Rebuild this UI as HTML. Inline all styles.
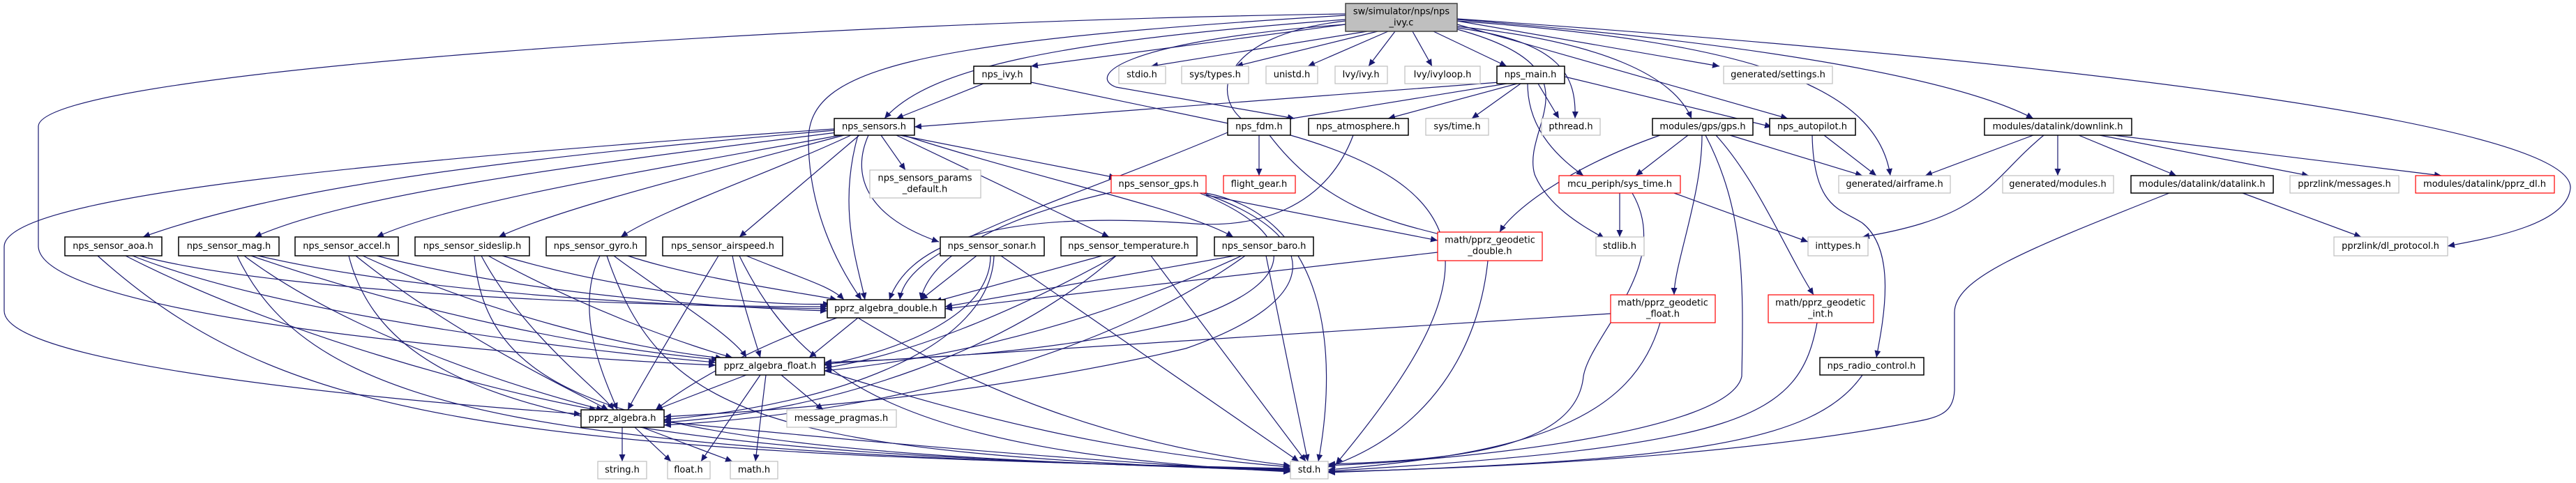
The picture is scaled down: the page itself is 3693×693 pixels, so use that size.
<!DOCTYPE html>
<html><head><meta charset="utf-8"><style>
html,body{margin:0;padding:0;background:#fff;}
svg{display:block;}
text{font-family:"DejaVu Sans","Liberation Sans",sans-serif;font-size:13px;fill:#000;text-anchor:middle;dominant-baseline:central;}
.e{fill:none;stroke:#191970;stroke-width:1.2;marker-end:url(#a);}
.b{fill:#fff;stroke:#000;stroke-width:1.5;}
.g{fill:#fff;stroke:#bfbfbf;stroke-width:1.2;}
.r{fill:#fff;stroke:#ff0000;stroke-width:1.2;}
</style></head><body>
<svg width="3693" height="693" viewBox="0 0 3693 693" xmlns="http://www.w3.org/2000/svg">
<defs><marker id="a" markerWidth="11" markerHeight="9" refX="10" refY="4.5" orient="auto" markerUnits="userSpaceOnUse"><path d="M0,0L10,4.5L0,9z" fill="#191970"/></marker></defs>
<g>
<!-- sw edges -->
<path class="e" d="M1929,35 L1478,95"/>
<path class="e" d="M1960,45 L1650,95"/>
<path class="e" d="M1975,45 L1772,95"/>
<path class="e" d="M1990,45 L1875,95"/>
<path class="e" d="M2000,45 L1962,95"/>
<path class="e" d="M2025,45 L2053,95"/>
<path class="e" d="M2055,45 L2160,95"/>
<path class="e" d="M2089,30 L2465,95"/>
<path class="e" d="M2089,35 L2563,170"/>
<path class="e" d="M2089,30 C2500,60 2690,120 2710,252"/>
<path class="e" d="M2089,28 C2500,60 2800,110 2915,170"/>
<path class="e" d="M2089,27 C3000,90 3690,180 3685,270 C3680,320 3580,340 3509,353"/>
<path class="e" d="M2089,38 C2300,60 2400,110 2425,170"/>
<path class="e" d="M2089,40 C2240,60 2260,110 2258,170"/>
<path class="e" d="M2089,42 C2300,100 2180,180 2200,250 C2220,300 2280,330 2300,342"/>
<path class="e" d="M1929,30 C1750,50 1730,140 1790,178"/>
<path class="e" d="M1929,35 C1600,60 1560,110 1600,125 L1856,170"/>
<path class="e" d="M1929,28 C1500,60 1330,100 1268,170"/>
<path class="e" d="M1929,22 C1300,60 1160,100 1159,200 C1159,300 1200,380 1235,430"/>
<path class="e" d="M1929,20 C1200,30 60,100 55,181 L55,354 C60,450 700,510 1026,524"/>
<!-- nps_ivy -->
<path class="e" d="M1410,120 L1285,170"/>
<path class="e" d="M1478,118 L1775,180"/>
<!-- nps_main -->
<path class="e" d="M2150,118 L1311,182"/>
<path class="e" d="M2160,120 L1840,172"/>
<path class="e" d="M2175,120 L1990,170"/>
<path class="e" d="M2180,120 L2110,170"/>
<path class="e" d="M2205,120 L2235,170"/>
<path class="e" d="M2190,120 C2190,190 2240,230 2270,252"/>
<path class="e" d="M2243,110 L2540,182"/>
<!-- nps_sensors -->
<path class="e" d="M1196,187 C700,230 400,270 205,340"/>
<path class="e" d="M1200,190 C800,240 500,280 365,340"/>
<path class="e" d="M1205,194 C900,250 650,290 540,340"/>
<path class="e" d="M1210,194 C1000,250 800,300 715,340"/>
<path class="e" d="M1220,194 C1100,250 950,300 890,340"/>
<path class="e" d="M1232,194 L1060,340"/>
<path class="e" d="M1263,194 L1298,244"/>
<path class="e" d="M1290,194 L1600,255"/>
<path class="e" d="M1245,194 C1220,250 1240,310 1346,347"/>
<path class="e" d="M1285,194 L1590,340"/>
<path class="e" d="M1295,194 C1500,260 1700,300 1768,340"/>
<path class="e" d="M1230,194 C1200,300 1230,380 1240,430"/>
<path class="e" d="M1196,185 C400,240 6,290 6,354 L6,446 C6,520 500,570 833,594"/>
<!-- nps_fdm -->
<path class="e" d="M1805,194 L1805,252"/>
<path class="e" d="M1760,190 C1500,300 1300,350 1290,430"/>
<path class="e" d="M1820,194 C1900,300 2000,320 2080,340"/>
<path class="e" d="M1850,194 C2150,280 2120,420 1915,666"/>
<!-- atmosphere -->
<path class="e" d="M1940,194 C1900,300 1800,330 1700,320 C1400,300 1300,360 1275,430"/>
<!-- sensor_gps -->
<path class="e" d="M1593,276 C1400,320 1330,380 1320,430"/>
<path class="e" d="M1720,277 C1850,330 1880,400 1700,460 C1500,510 1300,515 1182,520"/>
<path class="e" d="M1725,277 C1900,340 1900,430 1700,500 C1400,570 1100,590 952,598"/>
<path class="e" d="M1729,277 C1900,310 1920,500 1890,662"/>
<path class="e" d="M1729,280 L2061,345"/>
<!-- left sensors -->
<path class="e" d="M200,367 C400,420 900,440 1186,440"/>
<path class="e" d="M190,367 C400,450 800,500 1026,520"/>
<path class="e" d="M180,367 C400,480 700,560 855,588"/>
<path class="e" d="M140,367 C400,600 700,650 1850,672"/>
<path class="e" d="M370,367 C600,420 950,440 1186,443"/>
<path class="e" d="M360,367 C600,450 850,500 1030,516"/>
<path class="e" d="M350,367 C500,480 750,560 865,588"/>
<path class="e" d="M340,367 C450,600 800,650 1850,673"/>
<path class="e" d="M540,367 C750,420 1000,440 1186,446"/>
<path class="e" d="M520,367 C700,450 900,500 1036,514"/>
<path class="e" d="M510,367 C650,480 820,560 872,588"/>
<path class="e" d="M500,367 C560,600 900,650 1850,674"/>
<path class="e" d="M720,367 C900,420 1100,440 1190,436"/>
<path class="e" d="M700,367 C850,450 1000,500 1050,513"/>
<path class="e" d="M690,367 C750,480 860,560 880,588"/>
<path class="e" d="M680,367 C700,600 950,650 1850,675"/>
<path class="e" d="M900,367 C1000,400 1150,420 1200,430"/>
<path class="e" d="M880,367 C950,420 1050,480 1070,513"/>
<path class="e" d="M860,367 C820,450 870,550 885,588"/>
<path class="e" d="M870,367 C950,600 1100,650 1850,676"/>
<path class="e" d="M1070,367 C1150,400 1190,410 1210,430"/>
<path class="e" d="M1050,367 C1060,420 1080,480 1090,513"/>
<path class="e" d="M1030,367 C980,450 920,550 900,588"/>
<path class="e" d="M1060,367 C1150,550 1300,650 1850,677"/>
<!-- right sensors -->
<path class="e" d="M1400,367 L1320,430"/>
<path class="e" d="M1420,367 C1420,450 1300,500 1182,524"/>
<path class="e" d="M1425,367 C1420,500 1200,580 952,602"/>
<path class="e" d="M1435,367 L1862,662"/>
<path class="e" d="M1580,367 L1340,433"/>
<path class="e" d="M1600,367 C1450,450 1300,510 1182,528"/>
<path class="e" d="M1600,367 C1450,500 1200,590 952,606"/>
<path class="e" d="M1650,367 L1872,662"/>
<path class="e" d="M1770,367 L1355,440"/>
<path class="e" d="M1780,367 C1600,450 1400,510 1182,532"/>
<path class="e" d="M1785,367 C1600,500 1300,590 952,610"/>
<path class="e" d="M1815,367 L1875,662"/>
<!-- algebra -->
<path class="e" d="M1230,456 L1160,513"/>
<path class="e" d="M1200,456 C1100,490 1000,540 940,588"/>
<path class="e" d="M1230,456 C1400,560 1600,640 1850,668"/>
<path class="e" d="M1070,538 L940,588"/>
<path class="e" d="M1120,538 L1180,588"/>
<path class="e" d="M1090,538 L1005,662"/>
<path class="e" d="M1098,538 L1083,662"/>
<path class="e" d="M1182,532 C1400,600 1600,650 1850,670"/>
<path class="e" d="M892,613 L892,662"/>
<path class="e" d="M910,613 L962,662"/>
<path class="e" d="M920,613 L1050,662"/>
<path class="e" d="M952,605 C1300,640 1600,665 1850,676"/>
<!-- geodetic -->
<path class="e" d="M2061,362 L1355,443"/>
<path class="e" d="M2133,374 C2120,500 2050,620 1904,670"/>
<path class="e" d="M2309,450 L1182,522"/>
<path class="e" d="M2380,463 C2340,600 2200,650 1904,674"/>
<path class="e" d="M2605,463 C2580,600 2500,640 1904,676"/>
<!-- gps -->
<path class="e" d="M2380,194 C2250,240 2170,300 2150,333"/>
<path class="e" d="M2440,194 C2440,280 2400,380 2400,423"/>
<path class="e" d="M2460,194 C2520,260 2560,360 2600,423"/>
<path class="e" d="M2420,194 L2345,252"/>
<path class="e" d="M2480,194 L2670,252"/>
<path class="e" d="M2445,194 C2500,300 2500,400 2497,540 C2480,620 2100,660 1904,668"/>
<!-- sys_time -->
<path class="e" d="M2322,277 L2322,340"/>
<path class="e" d="M2400,277 L2592,347"/>
<path class="e" d="M2340,277 C2400,380 2280,480 2270,540 C2260,640 2100,660 1904,666"/>
<!-- autopilot -->
<path class="e" d="M2615,194 L2690,252"/>
<path class="e" d="M2598,194 C2600,300 2640,300 2670,320 C2720,360 2700,460 2690,513"/>
<path class="e" d="M2670,538 C2600,640 2400,660 1904,678"/>
<!-- downlink -->
<path class="e" d="M2915,194 L2760,252"/>
<path class="e" d="M2930,194 C2850,260 2850,310 2670,340"/>
<path class="e" d="M2950,194 L2950,252"/>
<path class="e" d="M2980,194 L3120,252"/>
<path class="e" d="M3010,194 L3310,252"/>
<path class="e" d="M3030,194 L3500,252"/>
<!-- datalink -->
<path class="e" d="M3215,277 L3385,340"/>
<path class="e" d="M3110,277 C2900,360 2800,400 2802,450 L2802,560 C2800,600 2770,600 2720,610 C2500,650 2200,670 1904,677"/>
</g>
<g>
<rect x="1929" y="5" width="160" height="40" fill="#bfbfbf" stroke="#404040" stroke-width="1.5"/>
<text x="2009" y="17">sw/simulator/nps/nps</text><text x="2009" y="33">_ivy.c</text>

<rect class="b" x="1396" y="95" width="82" height="25"/><text x="1437" y="107.5">nps_ivy.h</text>
<rect class="g" x="1604" y="95" width="67" height="25"/><text x="1637" y="107.5">stdio.h</text>
<rect class="g" x="1694" y="95" width="96" height="25"/><text x="1742" y="107.5">sys/types.h</text>
<rect class="g" x="1815" y="95" width="74" height="25"/><text x="1852" y="107.5">unistd.h</text>
<rect class="g" x="1914" y="95" width="75" height="25"/><text x="1951" y="107.5">Ivy/ivy.h</text>
<rect class="g" x="2014" y="95" width="108" height="25"/><text x="2068" y="107.5">Ivy/ivyloop.h</text>
<rect class="b" x="2146" y="95" width="97" height="25"/><text x="2194" y="107.5">nps_main.h</text>
<rect class="g" x="2471" y="95" width="156" height="25"/><text x="2549" y="107.5">generated/settings.h</text>

<rect class="b" x="1196" y="170" width="115" height="24"/><text x="1253" y="182">nps_sensors.h</text>
<rect class="b" x="1760" y="170" width="90" height="24"/><text x="1805" y="182">nps_fdm.h</text>
<rect class="b" x="1876" y="170" width="143" height="24"/><text x="1947" y="182">nps_atmosphere.h</text>
<rect class="g" x="2044" y="170" width="90" height="24"/><text x="2089" y="182">sys/time.h</text>
<rect class="g" x="2210" y="170" width="84" height="24"/><text x="2252" y="182">pthread.h</text>
<rect class="b" x="2369" y="170" width="144" height="24"/><text x="2441" y="182">modules/gps/gps.h</text>
<rect class="b" x="2537" y="170" width="123" height="24"/><text x="2598" y="182">nps_autopilot.h</text>
<rect class="b" x="2845" y="170" width="211" height="24"/><text x="2950" y="182">modules/datalink/downlink.h</text>

<rect class="g" x="1247" y="244" width="159" height="40"/><text x="1326" y="256">nps_sensors_params</text><text x="1326" y="272">_default.h</text>
<rect class="r" x="1593" y="252" width="136" height="25"/><text x="1661" y="264.5">nps_sensor_gps.h</text>
<rect class="r" x="1754" y="252" width="103" height="25"/><text x="1805" y="264.5">flight_gear.h</text>
<rect class="r" x="2235" y="252" width="174" height="25"/><text x="2322" y="264.5">mcu_periph/sys_time.h</text>
<rect class="g" x="2636" y="252" width="160" height="25"/><text x="2716" y="264.5">generated/airframe.h</text>
<rect class="g" x="2871" y="252" width="159" height="25"/><text x="2950" y="264.5">generated/modules.h</text>
<rect class="b" x="3055" y="252" width="204" height="25"/><text x="3157" y="264.5">modules/datalink/datalink.h</text>
<rect class="g" x="3283" y="252" width="156" height="25"/><text x="3361" y="264.5">pprzlink/messages.h</text>
<rect class="r" x="3463" y="252" width="199" height="25"/><text x="3562" y="264.5">modules/datalink/pprz_dl.h</text>

<rect class="b" x="93" y="340" width="139" height="27"/><text x="162" y="353.5">nps_sensor_aoa.h</text>
<rect class="b" x="256" y="340" width="144" height="27"/><text x="328" y="353.5">nps_sensor_mag.h</text>
<rect class="b" x="423" y="340" width="148" height="27"/><text x="497" y="353.5">nps_sensor_accel.h</text>
<rect class="b" x="595" y="340" width="164" height="27"/><text x="677" y="353.5">nps_sensor_sideslip.h</text>
<rect class="b" x="783" y="340" width="143" height="27"/><text x="854" y="353.5">nps_sensor_gyro.h</text>
<rect class="b" x="950" y="340" width="172" height="27"/><text x="1036" y="353.5">nps_sensor_airspeed.h</text>
<rect class="b" x="1348" y="340" width="149" height="27"/><text x="1422" y="353.5">nps_sensor_sonar.h</text>
<rect class="b" x="1521" y="340" width="195" height="27"/><text x="1618" y="353.5">nps_sensor_temperature.h</text>
<rect class="b" x="1741" y="340" width="142" height="27"/><text x="1812" y="353.5">nps_sensor_baro.h</text>
<rect class="r" x="2061" y="333" width="150" height="41"/><text x="2136" y="345">math/pprz_geodetic</text><text x="2136" y="361">_double.h</text>
<rect class="g" x="2288" y="340" width="69" height="27"/><text x="2322" y="353.5">stdlib.h</text>
<rect class="g" x="2592" y="340" width="86" height="27"/><text x="2635" y="353.5">inttypes.h</text>
<rect class="g" x="3346" y="340" width="163" height="27"/><text x="3427" y="353.5">pprzlink/dl_protocol.h</text>

<rect class="b" x="1186" y="430" width="169" height="26"/><text x="1270" y="443">pprz_algebra_double.h</text>
<rect class="r" x="2309" y="423" width="150" height="40"/><text x="2384" y="435">math/pprz_geodetic</text><text x="2384" y="451">_float.h</text>
<rect class="r" x="2535" y="423" width="151" height="40"/><text x="2610" y="435">math/pprz_geodetic</text><text x="2610" y="451">_int.h</text>

<rect class="b" x="1026" y="513" width="156" height="25"/><text x="1104" y="525.5">pprz_algebra_float.h</text>
<rect class="b" x="2609" y="513" width="149" height="25"/><text x="2683" y="525.5">nps_radio_control.h</text>

<rect class="b" x="833" y="588" width="119" height="25"/><text x="892" y="600.5">pprz_algebra.h</text>
<rect class="g" x="1128" y="588" width="157" height="25"/><text x="1206" y="600.5">message_pragmas.h</text>

<rect class="g" x="857" y="662" width="70" height="25"/><text x="892" y="674.5">string.h</text>
<rect class="g" x="957" y="662" width="61" height="25"/><text x="987" y="674.5">float.h</text>
<rect class="g" x="1047" y="662" width="68" height="25"/><text x="1081" y="674.5">math.h</text>
<rect class="g" x="1850" y="662" width="54" height="25"/><text x="1877" y="674.5">std.h</text>
</g>
</svg>
</body></html>
